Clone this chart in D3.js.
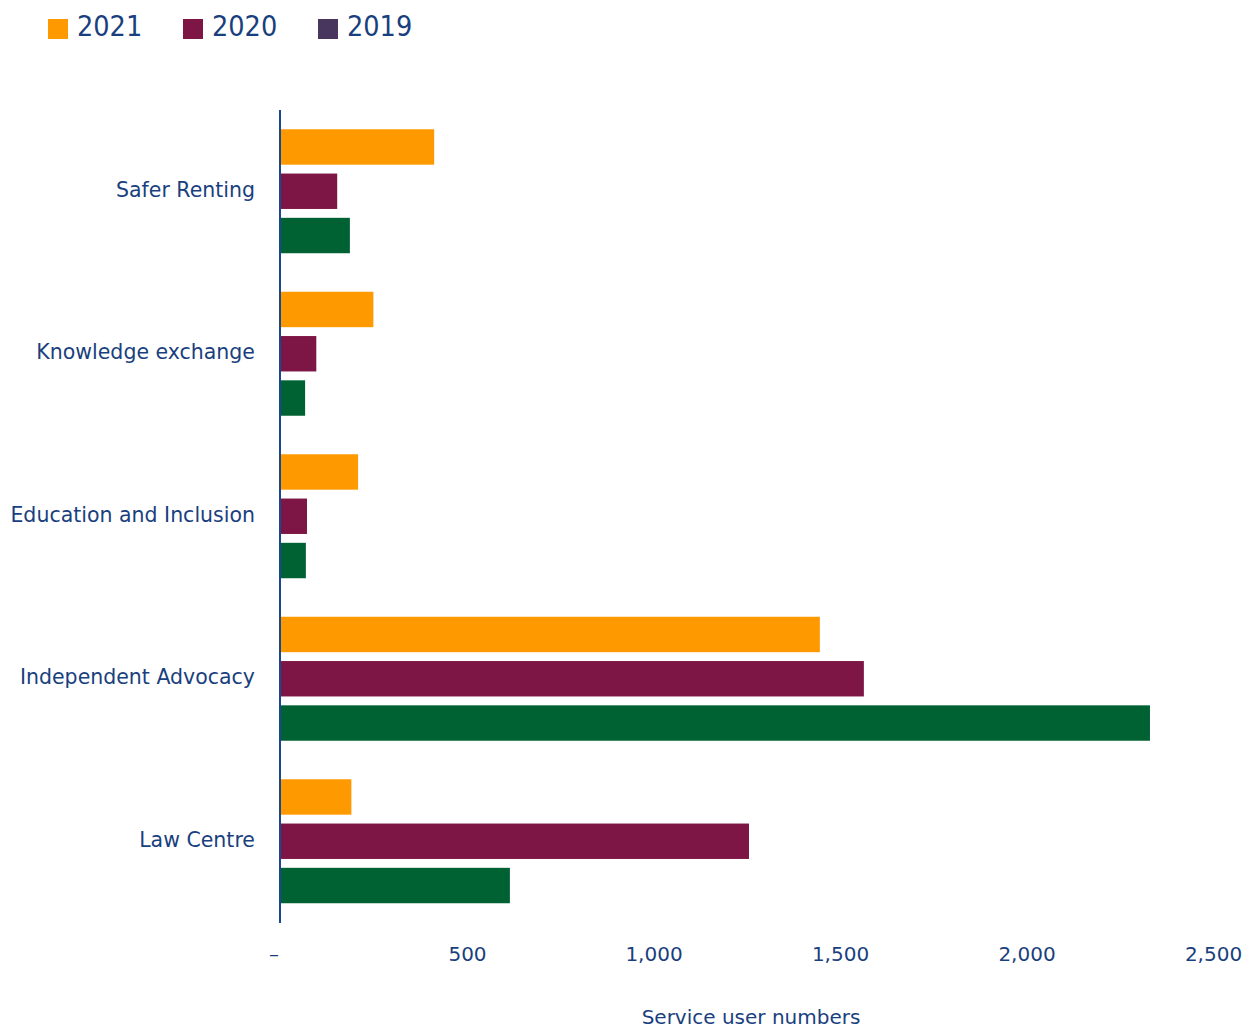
<!DOCTYPE html>
<html>
<head>
    <script src="https://d3js.org/d3.v7.min.js"></script>
    <style>
        body {
            margin: 0;
            background: #fff;
            font-family: "DejaVu Sans", sans-serif;
        }

        .label {
            fill: #1a3f7e;
            font-size: 20.5px;
        }

        .axis text {
            fill: #1a3f7e;
            font-size: 20px;
            font-family: "DejaVu Sans", sans-serif;
        }

        .axis .domain,
        .axis line {
            stroke: none;
        }

        .legend text {
            fill: #1a3f7e;
            font-size: 28.5px;
            font-stretch: condensed;
        }
    </style>
</head>
<body>
    <svg width="1254" height="1029"></svg>
    <script>
        const categories = ["Safer Renting", "Knowledge exchange", "Education and Inclusion", "Independent Advocacy", "Law Centre"];
        const years = ["2021", "2020", "2019"];
        const values2021 = [412, 249, 208, 1446, 190];
        const values2020 = [152, 96, 71, 1564, 1256];
        const values2019 = [186, 66, 68, 2331, 615];
        const xTicks = [0, 500, 1000, 1500, 2000, 2500];

        // bar colours; the legend swatch for 2019 differs from its bars in the original
        const barColor = { "2021": "#ff9900", "2020": "#7d1645", "2019": "#006133" };
        const legendColor = { "2021": "#ff9900", "2020": "#7d1645", "2019": "#48365e" };

        const seriesByYear = { "2021": values2021, "2020": values2020, "2019": values2019 };

        const svg = d3.select("svg");

        const x = d3.scaleLinear()
            .domain([0, 2500])
            .range([280.5, 1213]);

        const y = d3.scaleBand()
            .domain(categories)
            .range([110, 922.5])
            .paddingInner(0.237)
            .paddingOuter(0.1185);

        const ySub = d3.scaleBand()
            .domain(years)
            .range([0, y.bandwidth()])
            .paddingInner(0.2)
            .paddingOuter(0);

        // bars
        const rows = categories.map((c, i) => ({
            category: c,
            bars: years.map(yr => ({ year: yr, value: seriesByYear[yr][i] }))
        }));

        svg.append("g")
            .selectAll("g")
            .data(rows)
            .join("g")
            .attr("transform", d => `translate(0, ${y(d.category)})`)
            .selectAll("rect")
            .data(d => d.bars)
            .join("rect")
            .attr("x", x(0))
            .attr("y", d => ySub(d.year))
            .attr("width", d => x(d.value) - x(0))
            .attr("height", ySub.bandwidth())
            .attr("fill", d => barColor[d.year]);

        // vertical axis line
        svg.append("line")
            .attr("x1", 280).attr("x2", 280)
            .attr("y1", 110).attr("y2", 923)
            .attr("stroke", "#1b4791")
            .attr("stroke-width", 2);

        // category labels
        svg.append("g")
            .selectAll("text")
            .data(categories)
            .join("text")
            .attr("class", "label")
            .attr("x", 255)
            .attr("y", d => y(d) + y.bandwidth() / 2)
            .attr("dy", "0.27em")
            .attr("text-anchor", "end")
            .text(d => d);

        // x axis
        const xAxis = d3.axisBottom(x)
            .tickValues(xTicks)
            .tickSize(0)
            .tickPadding(0)
            .tickFormat(d => d === 0 ? "–" : d3.format(",")(d));

        const gx = svg.append("g")
            .attr("class", "axis")
            .attr("transform", "translate(0, 947)")
            .call(xAxis);
        gx.selectAll(".tick text")
            .attr("dx", d => d === 0 ? -7 : 0);

        svg.append("text")
            .attr("class", "label")
            .attr("x", 751)
            .attr("y", 1024)
            .attr("text-anchor", "middle")
            .style("font-size", "20px")
            .text("Service user numbers");

        // legend
        const legend = svg.append("g").attr("class", "legend");
        const legendX = [48, 183, 318];
        years.forEach((yr, i) => {
            legend.append("rect")
                .attr("x", legendX[i]).attr("y", 19)
                .attr("width", 20).attr("height", 20)
                .attr("fill", legendColor[yr]);
            legend.append("text")
                .attr("x", legendX[i] + 29)
                .attr("y", 36)
                .text(yr);
        });
    </script>
</body>
</html>
